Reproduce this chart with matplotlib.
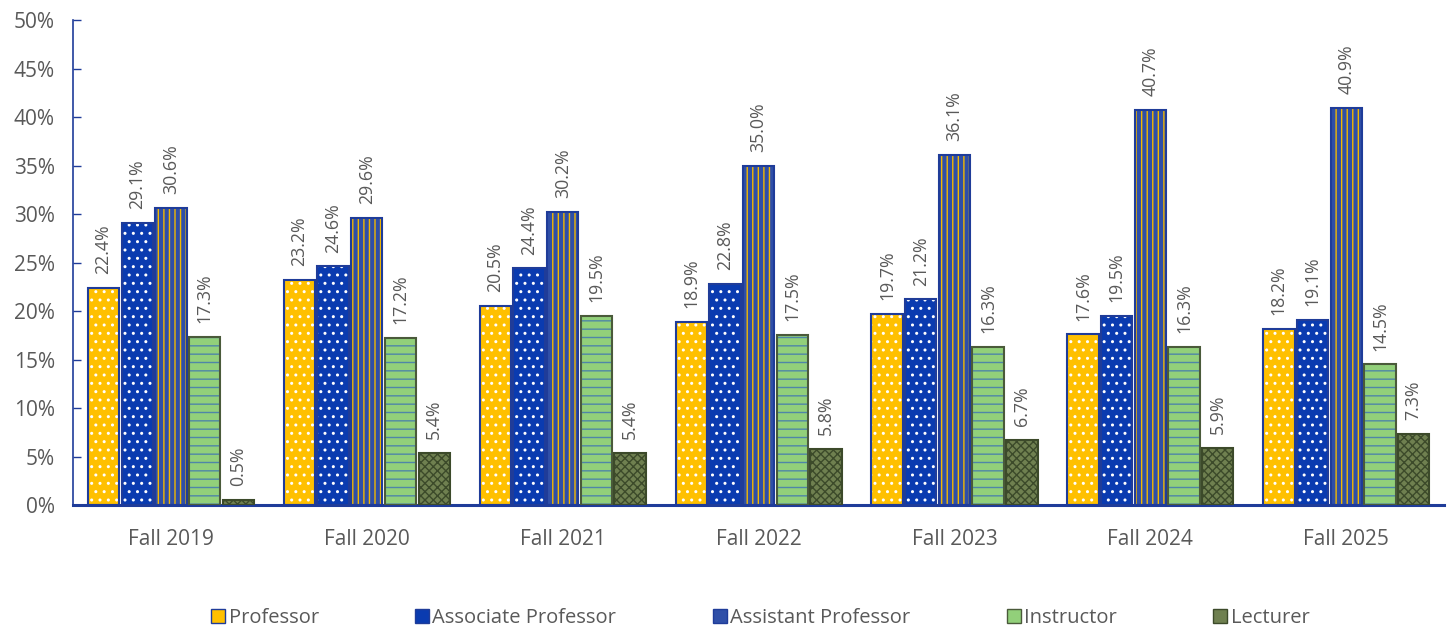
import numpy as np
import matplotlib.pyplot as plt

plt.rcParams['font.family'] = ['Open Sans', 'DejaVu Sans']

terms = ['Fall 2019', 'Fall 2020', 'Fall 2021', 'Fall 2022', 'Fall 2023', 'Fall 2024', 'Fall 2025']
professor = [22.4, 23.2, 20.5, 18.9, 19.7, 17.6, 18.2]
associate = [29.1, 24.6, 24.4, 22.8, 21.2, 19.5, 19.1]
assistant = [30.6, 29.6, 30.2, 35.0, 36.1, 40.7, 40.9]
instructor = [17.3, 17.2, 19.5, 17.5, 16.3, 16.3, 14.5]
lecturer = [0.5, 5.4, 5.4, 5.8, 6.7, 5.9, 7.3]

series = [
    ('Professor', professor, '#FFC000', 'white', '..', '#1F3C99'),
    ('Associate Professor', associate, '#0A3BB0', 'white', '..', '#1F3C99'),
    ('Assistant Professor', assistant, '#2F4FA8', '#F2B800', '|||', '#1F3C99'),
    ('Instructor', instructor, '#92D07A', '#4F86A8', '--', '#4A5A3A'),
    ('Lecturer', lecturer, '#6F8050', '#3C4A2A', 'xxxx', '#3C4A2A'),
]

fig = plt.figure(figsize=(14.51, 6.26), dpi=100)
ax = fig.add_axes([0.0503, 0.193, 0.945, 0.775])

x = np.arange(len(terms))
w = 0.16
step = 0.172
handles = []
for i, (name, vals, fc, hc, hatch, ec) in enumerate(series):
    pos = x + (i - 2) * step
    # hatch layer (hatch colour comes from edgecolor)
    ax.bar(pos, vals, w, color=fc, edgecolor=hc, hatch=hatch, linewidth=0, zorder=2)
    # border layer
    ax.bar(pos, vals, w, fill=False, edgecolor=ec, linewidth=1.5, zorder=3)
    handles.append(plt.Rectangle((0, 0), 1, 1, facecolor=fc, edgecolor=ec, linewidth=1))
    for p, v in zip(pos, vals):
        ax.annotate(f'{v:.1f}%', (p, v), xytext=(0, 10), textcoords='offset points',
                    rotation=90, ha='center', va='bottom', fontsize=12.8, color='#595959')

ax.set_xlim(-0.5, 6.5)
ax.set_ylim(0, 50)
ax.set_yticks(np.arange(0, 51, 5))
ax.set_yticklabels([f'{t}%' for t in range(0, 51, 5)], fontsize=15, color='#595959')
ax.set_xticks(x)
ax.set_xticklabels(terms, fontsize=15, color='#595959')
ax.tick_params(axis='x', length=0, pad=17)
ax.tick_params(axis='y', direction='in', length=6, color='#1F3C99', width=1, pad=13)

for s in ['top', 'right']:
    ax.spines[s].set_visible(False)
ax.spines['left'].set_color('#1F3C99')
ax.spines['left'].set_linewidth(1.2)
ax.spines['bottom'].set_color('#1F3C99')
ax.spines['bottom'].set_linewidth(2.2)

leg = fig.legend(handles, [s[0] for s in series], loc='center', bbox_to_anchor=(0.524, 0.012),
                 ncol=5, frameon=False, fontsize=14.5, handlelength=0.7, handleheight=0.7,
                 handletextpad=0.15, columnspacing=4.8)
for t in leg.get_texts():
    t.set_color('#595959')

fig.savefig('out.png', dpi=100)
